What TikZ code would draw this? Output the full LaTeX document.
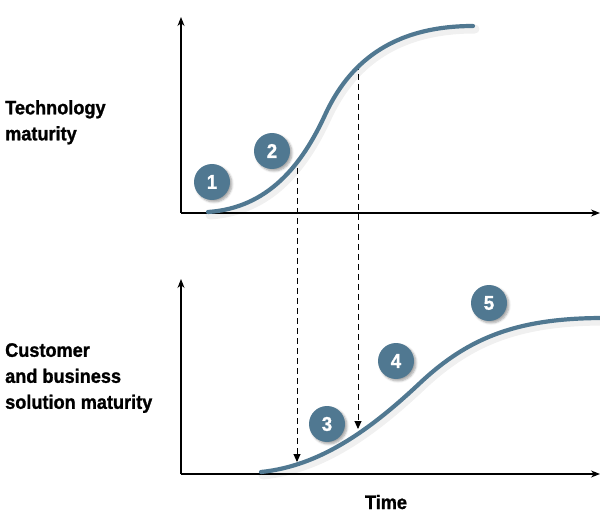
\documentclass[tikz,border=0pt]{standalone}
\usepackage{fontspec}
\setmainfont{Liberation Sans}[FakeStretch=0.93, BoldFeatures={FakeBold=1.2}]
\usepackage{tikz}
\usetikzlibrary{arrows.meta, shadows.blur}

\definecolor{stageblue}{RGB}{80,120,145}

\tikzset{
	axis/.style={line width=1.1pt, -{Stealth[length=9pt, width=7pt]}},
	scurve/.style={line width=4.2pt, line cap=round, draw=stageblue},
	curveshade/.style={line width=9pt, line cap=round, draw=black, opacity=0.06},
	projection/.style={line width=0.9pt, dash pattern=on 6pt off 4pt, -{Triangle[length=8pt, width=7pt]}},
	stage/.style={circle, fill=stageblue, text=white, minimum size=36pt, inner sep=0pt,
		font=\bfseries\fontsize{20}{20}\selectfont,
		blur shadow={shadow blur steps=6, shadow xshift=2pt, shadow yshift=-2pt, shadow opacity=35}},
	axislabel/.style={anchor=north west, align=left, inner sep=0pt,
		font=\bfseries\fontsize{19.5}{26}\selectfont}
}

\begin{document}
\begin{tikzpicture}[x=1pt, y=-1pt]
	\useasboundingbox (0,0) rectangle (600,513);

	% axes
	\coordinate (o1) at (181,213);
	\coordinate (y1) at (181,17);
	\coordinate (x1) at (600,213);
	\coordinate (o2) at (181,474);
	\coordinate (y2) at (181,279);
	\coordinate (x2) at (600,474);
	\draw[axis] (o1) -- (y1);
	\draw[axis] (o1) -- (x1);
	\draw[axis] (o2) -- (y2);
	\draw[axis] (o2) -- (x2);

	% projections from technology to solution curve
	\coordinate (t2) at (297,168);
	\coordinate (t3) at (358,64);
	\coordinate (s3) at (297,462);
	\coordinate (s4) at (358,429);
	\draw[projection] (t2) -- (s3);
	\draw[projection] (t3) -- (s4);

	% S-curves
	\draw[curveshade, xshift=2pt, yshift=-3pt] (208,212) .. controls (268,208) and (302,165) .. (325,115)
		.. controls (348,65) and (390,26) .. (473,26);
	\draw[curveshade, xshift=2pt, yshift=-3pt] (261,472) .. controls (320,466) and (370,430) .. (420,383)
		.. controls (470,336) and (520,318) .. (604,318);
	\draw[scurve] (208,212) .. controls (268,208) and (302,165) .. (325,115)
		.. controls (348,65) and (390,26) .. (473,26);
	\draw[scurve] (261,472) .. controls (320,466) and (370,430) .. (420,383)
		.. controls (470,336) and (520,318) .. (604,318);

	% stages
	\foreach \x/\y/\n in {212/182/1, 272/151/2, 327/424/3, 396/361/4, 489/303/5} {
		\node[stage] (n\n) at (\x,\y) {\n};
	}

	% labels
	\node[axislabel] (tech) at (5,100) {Technology\\maturity};
	\node[axislabel] (cust) at (5,343) {Customer\\and business\\solution maturity};
	\node[font=\bfseries\fontsize{19.5}{19.5}\selectfont, anchor=base] (time) at (386,509) {Time};
\end{tikzpicture}
\end{document}
